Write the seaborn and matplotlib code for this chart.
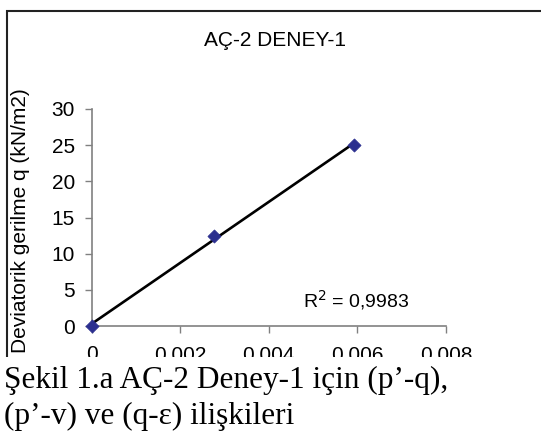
import matplotlib
matplotlib.use("Agg")
import matplotlib.pyplot as plt
from matplotlib.patches import Rectangle
import seaborn as sns
import pandas as pd

# Strain (epsilon) and deviatoric stress q (kN/m2)
strain = [0.0, 0.00276, 0.00592]
q_values = [0.0, 12.5, 25.0]

x_ticks = [0.0, 0.002, 0.004, 0.006, 0.008]
x_tick_labels = ["0", "0,002", "0,004", "0,006", "0,008"]
y_ticks = [0, 5, 10, 15, 20, 25, 30]

title = "AÇ-2 DENEY-1"
y_label = "Deviatorik gerilme q (kN/m2)"
r2_label = "R$^2$ = 0,9983"
caption_lines = ["Şekil 1.a AÇ-2 Deney-1 için (p’-q),",
                 "(p’-v) ve (q-ε) ilişkileri"]

df = pd.DataFrame({"strain": strain, "q": q_values})

sns.set_style("white")
plt.rcParams["font.family"] = ["Liberation Sans", "DejaVu Sans"]

W, H = 541, 437
fig = plt.figure(figsize=(W / 100, H / 100), dpi=100)
fig.patch.set_facecolor("white")

def fx(px):
    return px / W

def fy(py):
    return 1 - py / H

ax = fig.add_axes([fx(91.7), fy(326), fx(446) - fx(91.7), fy(109) - fy(326)])
ax.set_facecolor("none")

# linear trendline over the data range
sns.regplot(data=df, x="strain", y="q", ax=ax, scatter=False, ci=None,
            truncate=True, line_kws={"color": "black", "lw": 1.9, "zorder": 2})
sns.scatterplot(data=df, x="strain", y="q", ax=ax, marker="D", s=45,
                color="#2B2F8F", edgecolor="#2B2F8F", linewidth=0.5,
                zorder=3, clip_on=False)

ax.set_xlim(0, 0.008)
ax.set_ylim(0, 30)
ax.set_xticks(x_ticks)
ax.set_xticklabels(x_tick_labels)
ax.set_yticks(y_ticks)
ax.set_xlabel("")
ax.set_ylabel("")

for side in ("top", "right"):
    ax.spines[side].set_visible(False)
for side in ("left", "bottom"):
    ax.spines[side].set_color("#808080")
    ax.spines[side].set_linewidth(1.2)

ax.tick_params(axis="both", which="major", direction="out", length=5,
               width=1.0, color="#808080", labelsize=15, labelcolor="black",
               left=True, bottom=True)
ax.tick_params(axis="x", pad=9)
ax.tick_params(axis="y", pad=7)

ax.text(0.00477, 3.6, r2_label, fontsize=14, ha="left", va="center",
        color="black")

# chart title and vertical axis title
fig.text(fx(275), fy(41), title, fontsize=15, ha="center", va="center",
         color="black")
fig.text(fx(21), fy(221), y_label, fontsize=15, rotation=90,
         ha="center", va="center", color="black")

# outer chart frame
fig.add_artist(Rectangle((fx(7), -0.2), 1.5, fy(11) + 0.2,
                         transform=fig.transFigure, fill=False,
                         edgecolor="#222222", linewidth=1.5, zorder=4))

# page area below the chart, with the figure caption
fig.add_artist(Rectangle((0, 0), 1, fy(357), transform=fig.transFigure,
                         facecolor="white", edgecolor="none", zorder=5))
for i, line in enumerate(caption_lines):
    fig.text(fx(4), fy(388 + 36 * i), line, fontsize=22.5,
             family=["Liberation Serif", "DejaVu Serif"],
             ha="left", va="baseline", color="black", zorder=6)

fig.savefig("out.png", dpi=100, facecolor="white")
